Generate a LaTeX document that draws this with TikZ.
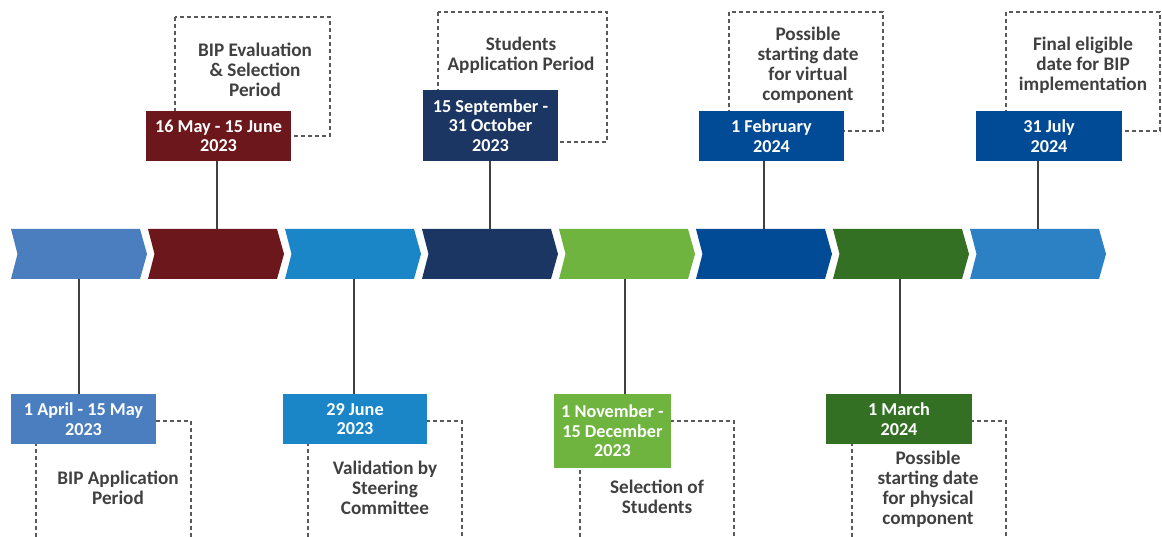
\documentclass[tikz,border=0pt]{standalone}
\usepackage{fontspec}
\setmainfont{Carlito}
\usepackage{tikz}

\definecolor{cApr}{HTML}{4A7EBF}
\definecolor{cMay}{HTML}{6B171C}
\definecolor{cJun}{HTML}{1B86C7}
\definecolor{cSep}{HTML}{1C3663}
\definecolor{cNov}{HTML}{6EB43F}
\definecolor{cFeb}{HTML}{004A96}
\definecolor{cMar}{HTML}{337024}
\definecolor{cJul}{HTML}{2C81C4}
\definecolor{txtgray}{HTML}{404040}
\definecolor{dashgray}{HTML}{595959}

\begin{document}
\begin{tikzpicture}[x=1pt,y=1pt,
  datebox/.style={fill=#1, text=white, inner sep=0pt, align=center,
    font=\bfseries\fontsize{18.2}{19.5}\selectfont},
  note/.style={text=txtgray, inner sep=0pt, align=center,
    font=\bfseries\fontsize{19.2}{20}\selectfont},
  notebox/.style={draw=dashgray, line width=1.2pt, dash pattern=on 4pt off 3pt},
  stem/.style={draw=txtgray, line width=1.4pt}]
\useasboundingbox (0,0) rectangle (1162,-537);
\clip (0,0) rectangle (1162,-537);
% chevrons
\fill [cApr] (11,-229) -- (140,-229) -- (147,-254) -- (140,-279) -- (11,-279) -- (17.5,-254) -- cycle;
\fill [cMay] (148,-229) -- (277,-229) -- (284,-254) -- (277,-279) -- (148,-279) -- (154.5,-254) -- cycle;
\fill [cJun] (285,-229) -- (414,-229) -- (421,-254) -- (414,-279) -- (285,-279) -- (291.5,-254) -- cycle;
\fill [cSep] (422,-229) -- (551,-229) -- (558,-254) -- (551,-279) -- (422,-279) -- (428.5,-254) -- cycle;
\fill [cNov] (559,-229) -- (688,-229) -- (695,-254) -- (688,-279) -- (559,-279) -- (565.5,-254) -- cycle;
\fill [cFeb] (696,-229) -- (825,-229) -- (832,-254) -- (825,-279) -- (696,-279) -- (702.5,-254) -- cycle;
\fill [cMar] (833,-229) -- (962,-229) -- (969,-254) -- (962,-279) -- (833,-279) -- (839.5,-254) -- cycle;
\fill [cJul] (970,-229) -- (1099,-229) -- (1106,-254) -- (1099,-279) -- (970,-279) -- (976.5,-254) -- cycle;
\coordinate (apr) at (79,-279);
\coordinate (may) at (217,-229);
\coordinate (jun) at (354,-279);
\coordinate (sep) at (490,-229);
\coordinate (nov) at (625,-279);
\coordinate (feb) at (764,-229);
\coordinate (mar) at (900,-279);
\coordinate (jul) at (1038,-229);
% dashed note frames
\draw [notebox] (36,-421) rectangle (191,-545);
\draw [notebox] (175,-17) rectangle (330,-136);
\draw [notebox] (308,-421) rectangle (462,-545);
\draw [notebox] (438,-12) rectangle (607,-142);
\draw [notebox] (580,-421) rectangle (734,-545);
\draw [notebox] (729,-12) rectangle (883,-131);
\draw [notebox] (852,-421) rectangle (1006,-545);
\draw [notebox] (1006,-12) rectangle (1160,-131);
% date boxes
\node [datebox=cApr, minimum width=145, minimum height=50] (dApr) at (83.5,-419) {1 April - 15 May\\2023};
\node [datebox=cMay, minimum width=145, minimum height=50] (dMay) at (218.5,-136) {16 May - 15 June\\2023};
\node [datebox=cJun, minimum width=144, minimum height=50] (dJun) at (355,-419) {29 June\\2023};
\node [datebox=cSep, minimum width=135, minimum height=71] (dSep) at (490.5,-125.5) {15 September -\\31 October\\2023};
\node [datebox=cNov, minimum width=117, minimum height=74] (dNov) at (612.5,-431) {1 November -\\15 December\\2023};
\node [datebox=cFeb, minimum width=145, minimum height=50] (dFeb) at (771.5,-136) {1 February\\2024};
\node [datebox=cMar, minimum width=146, minimum height=50] (dMar) at (899,-419) {1 March\\2024};
\node [datebox=cFeb, minimum width=146, minimum height=50] (dJul) at (1049,-136) {31 July\\2024};
% stems
\draw [stem] (apr) -- (apr |- dApr.north);
\draw [stem] (may) -- (may |- dMay.south);
\draw [stem] (jun) -- (jun |- dJun.north);
\draw [stem] (sep) -- (sep |- dSep.south);
\draw [stem] (nov) -- (nov |- dNov.north);
\draw [stem] (feb) -- (feb |- dFeb.south);
\draw [stem] (mar) -- (mar |- dMar.north);
\draw [stem] (jul) -- (jul |- dJul.south);
% notes
\node [note] (nApr) at (118,-488) {BIP Application\\Period};
\node [note] (nMay) at (255,-70) {BIP Evaluation\\\& Selection\\Period};
\node [note] (nJun) at (385,-488) {Validation by\\Steering\\Committee};
\node [note] (nSep) at (521,-55) {Students\\Application Period};
\node [note] (nNov) at (657,-497) {Selection of\\Students};
\node [note] (nFeb) at (808,-65) {Possible\\starting date\\for virtual\\component};
\node [note] (nMar) at (928,-489) {Possible\\starting date\\for physical\\component};
\node [note] (nJul) at (1083,-65) {Final eligible\\date for BIP\\implementation};
\end{tikzpicture}
\end{document}
